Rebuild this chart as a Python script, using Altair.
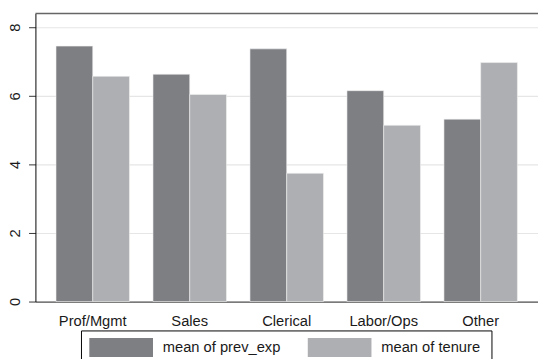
import altair as alt
import pandas as pd

categories = ["Prof/Mgmt", "Sales", "Clerical", "Labor/Ops", "Other"]
prev_exp = [7.45, 6.63, 7.37, 6.15, 5.32]
tenure = [6.57, 6.04, 3.74, 5.14, 6.97]
series_names = ["mean of prev_exp", "mean of tenure"]
series_colors = ["#7e7f83", "#aeafb2"]
y_ticks = [0, 2, 4, 6, 8]

rows = []
for c, a, b in zip(categories, prev_exp, tenure):
    rows.append({"cat": c, "series": series_names[0], "value": a})
    rows.append({"cat": c, "series": series_names[1], "value": b})
df = pd.DataFrame(rows)

FONT = "Liberation Sans"
W, H = 513, 294

bars = alt.Chart(df).mark_bar(stroke="#f2f2f2", strokeWidth=0.6).encode(
    x=alt.X(
        "cat:N",
        sort=categories,
        scale=alt.Scale(paddingInner=0.2424, paddingOuter=0.2121),
        axis=alt.Axis(
            title=None, labelAngle=0, ticks=False, labelPadding=12,
            labelFontSize=15, labelFont=FONT, labelColor="#1a1a1a",
            domainColor="#555555", domainWidth=1.2, grid=False,
        ),
    ),
    xOffset=alt.XOffset("series:N", sort=series_names,
                        scale=alt.Scale(paddingInner=0, paddingOuter=0)),
    y=alt.Y(
        "value:Q",
        scale=alt.Scale(domain=[0, 8.4], nice=False),
        axis=alt.Axis(
            title=None, values=y_ticks, labelAngle=270, tickSize=7,
            labelPadding=6, labelFontSize=15, labelFont=FONT,
            labelColor="#1a1a1a", domainColor="#000000", tickColor="#333333",
            grid=True, gridColor="#e6e6e6", gridWidth=1.2,
        ),
    ),
    color=alt.Color(
        "series:N",
        sort=series_names,
        scale=alt.Scale(domain=series_names, range=series_colors),
        legend=alt.Legend(
            title=None, orient="none", legendX=55, legendY=308,
            direction="horizontal", columns=2,
            symbolType="M-1,-0.3H1V0.3H-1Z", symbolSize=4225,
            symbolStrokeWidth=0, labelOffset=10, columnPadding=27,
            labelFontSize=15, labelFont=FONT, labelColor="#1a1a1a",
            padding=0,
        ),
    ),
)

top = alt.Chart(pd.DataFrame({"k": [0]})).mark_rule(color="#666666", strokeWidth=1.5).encode(
    y=alt.value(0), x=alt.value(0), x2=alt.value(W)
)

legend_box = alt.Chart(pd.DataFrame({"k": [0]})).mark_rect(
    fill=None, stroke="#000000", strokeWidth=1
).encode(
    x=alt.value(47), x2=alt.value(466), y=alt.value(324), y2=alt.value(372)
)

chart = alt.layer(bars, top, legend_box).properties(
    width=W, height=H,
    autosize=alt.AutoSizeParams(type="none"),
    padding={"left": 28, "top": 2, "right": 0, "bottom": 55},
).configure_view(stroke=None)

chart.save("out.html", embed_options={"renderer": "svg", "actions": False})
